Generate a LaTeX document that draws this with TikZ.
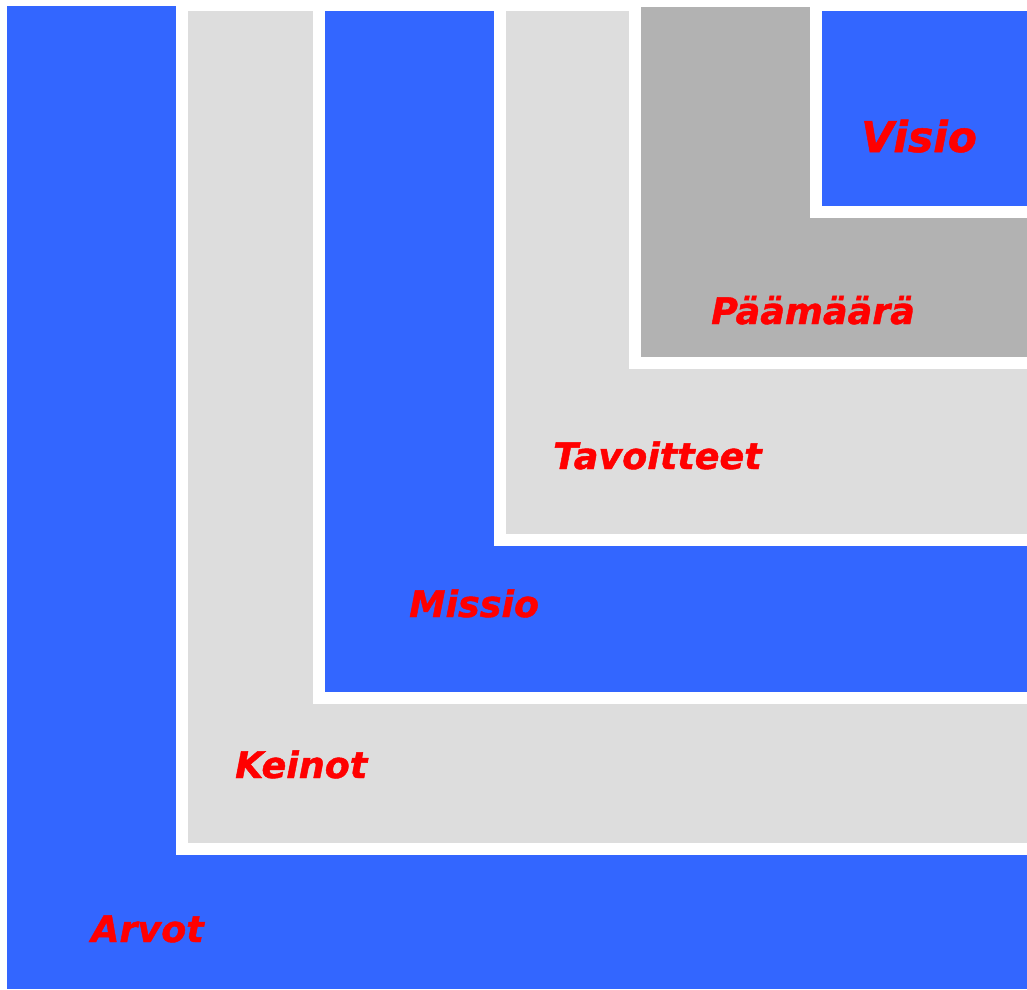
\documentclass[tikz,border=0pt]{standalone}
\usepackage{fontspec}
\setmainfont{DejaVu Sans}
\newfontfamily\tagfont[FakeBold=1.2]{DejaVu Sans Bold Oblique}
\usepackage{tikz}
\usetikzlibrary{positioning}
\definecolor{layerblue}{RGB}{51, 102, 255}
\definecolor{layergray}{RGB}{221, 221, 221}
\definecolor{layerdark}{RGB}{178, 178, 178}
\definecolor{tagred}{RGB}{255, 0, 0}

\begin{document}
\begin{tikzpicture}[x=1pt, y=-1pt,
    gap/.style={fill=white},
    tag/.style={anchor=base west, inner sep=0pt, text=tagred, font=\fontsize{36.5}{40}\selectfont\tagfont},
    bigtag/.style={tag, font=\fontsize{42.5}{48}\selectfont\tagfont}]
    \useasboundingbox[fill=white] (0, 0) rectangle (1027, 989);

    % Arvot
    \fill[layerblue] (7, 6) rectangle (1027, 989);
    \fill[gap] (176, 0) rectangle (1027, 855);

    % Keinot
    \fill[layergray] (188, 11) rectangle (1027, 843);
    \fill[gap] (313, 0) rectangle (1027, 704);

    % Missio
    \fill[layerblue] (325, 11) rectangle (1027, 692);
    \fill[gap] (494, 0) rectangle (1027, 546);

    % Tavoitteet
    \fill[layergray] (506, 11) rectangle (1027, 534);
    \fill[gap] (629, 0) rectangle (1027, 369);

    % Paamaara
    \fill[layerdark] (641, 7) rectangle (1027, 357);
    \fill[gap] (810, 0) rectangle (1027, 218);

    % Visio
    \fill[layerblue] (822, 11) rectangle (1027, 206);

    % Labels
    \node[bigtag] (visio) at (861, 152) {Visio};
    \node[tag] (paamaara) at (711, 324) {Päämäärä};
    \node[tag] (tavoitteet) at (553, 469) {Tavoitteet};
    \node[tag] (missio) at (409, 617) {Missio};
    \node[tag] (keinot) at (235, 778) {Keinot};
    \node[tag] (arvot) at (91, 942) {Arvot};
\end{tikzpicture}
\end{document}
